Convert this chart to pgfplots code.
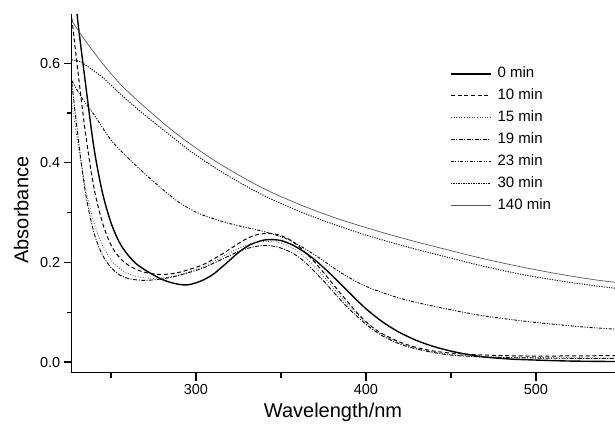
\documentclass[border=0pt]{standalone}
\usepackage{fontspec}
\setmainfont{Liberation Sans}
\usepackage{pgfplots}
\pgfplotsset{compat=1.18}

\begin{document}
\begin{tikzpicture}
\useasboundingbox (-71.7pt,-50.5pt) rectangle (543.3pt,372.5pt);
\begin{axis}[
  at={(0pt,0pt)}, anchor=south west,
  scale only axis, width=543.3pt, height=358.5pt,
  xmin=226.9, xmax=546.5, ymin=-0.021, ymax=0.699,
  axis x line*=bottom, axis y line*=left,
  axis line style={line width=1.2pt},
  tick align=outside,
  major tick length=8pt, minor tick length=5pt,
  tick style={black, line width=1.2pt},
  xtick={300,400,500}, minor xtick={250,350,450},
  ytick={0,0.2,0.4,0.6}, minor ytick={0.1,0.3,0.5},
  y tick label style={/pgf/number format/.cd, fixed, fixed zerofill, precision=1, /tikz/.cd},
  /pgf/number format/assume math mode=true,
  tick label style={font=\fontsize{14.5}{17}\selectfont},
  xlabel={Wavelength/nm}, ylabel={Absorbance},
  label style={font=\fontsize{20}{24}\selectfont},
  xlabel style={at={(axis description cs:0.481,-0.125)}, anchor=base},
  ylabel style={at={(axis description cs:-0.093,0.453)}, anchor=center},
  legend cell align=left,
  legend image code/.code={\draw[#1] (0pt,0pt) -- (40pt,0pt);},
  legend style={draw=none, fill=none, at={(axis description cs:0.6963,0.853)},
    anchor=north west, inner sep=0pt, row sep=7.95pt, column sep=6pt,
    font=\fontsize{15}{18}\selectfont,
    nodes={inner sep=0pt, text height=11pt, text depth=3pt}},
]
% 0 min
\addplot[black, line width=1.4pt, smooth] coordinates {
(227,0.82) (230,0.70) (235,0.56) (240,0.43) (245,0.34) (250,0.28) (255,0.24)
(260,0.215) (265,0.197) (270,0.185) (275,0.175) (280,0.166) (285,0.16) (290,0.156)
(295,0.155) (300,0.159) (305,0.166) (310,0.176) (315,0.19) (320,0.205) (325,0.22)
(330,0.232) (335,0.24) (340,0.245) (345,0.246) (350,0.244) (355,0.238) (360,0.229)
(365,0.218) (370,0.205) (375,0.19) (380,0.174) (385,0.157) (390,0.14) (395,0.123)
(400,0.107) (405,0.093) (410,0.08) (415,0.069) (420,0.059) (430,0.043) (440,0.031)
(450,0.022) (460,0.015) (470,0.01) (485,0.006) (500,0.004) (520,0.002) (547,0.001)
};
\addlegendentry{0 min}
% 10 min
\addplot[black, line width=1pt, dash pattern=on 4pt off 2.7pt, smooth] coordinates {
(227,0.69) (230,0.6) (235,0.46) (240,0.35) (245,0.28) (250,0.235) (255,0.21)
(260,0.195) (265,0.186) (270,0.18) (275,0.177) (280,0.176) (285,0.177) (290,0.18)
(295,0.185) (300,0.19) (305,0.197) (310,0.206) (315,0.216) (320,0.227) (325,0.238)
(330,0.248) (335,0.255) (340,0.258) (345,0.258) (350,0.254) (355,0.246) (360,0.234)
(365,0.218) (370,0.2) (375,0.18) (380,0.159) (385,0.138) (390,0.118) (395,0.098)
(400,0.081) (405,0.067) (410,0.056) (420,0.04) (430,0.029) (440,0.022) (450,0.018)
(470,0.014) (500,0.012) (547,0.013)
};
\addlegendentry{10 min}
% 15 min
\addplot[black!70, line width=0.8pt, dash pattern=on 0.8pt off 1.8pt, smooth] coordinates {
(227,0.52) (230,0.45) (235,0.35) (240,0.28) (245,0.235) (250,0.205) (255,0.188)
(260,0.178) (265,0.172) (270,0.169) (275,0.168) (280,0.169) (285,0.171) (290,0.175)
(295,0.18) (300,0.186) (305,0.193) (310,0.201) (315,0.21) (320,0.22) (325,0.228)
(330,0.235) (335,0.24) (340,0.242) (345,0.242) (350,0.239) (355,0.232) (360,0.222)
(365,0.208) (370,0.191) (375,0.172) (380,0.152) (385,0.132) (390,0.113) (395,0.096)
(400,0.08) (405,0.066) (410,0.055) (420,0.038) (430,0.027) (440,0.02) (450,0.015)
(470,0.011) (500,0.009) (547,0.008)
};
\addlegendentry{15 min}
% 19 min
\addplot[black, line width=0.9pt, dash pattern=on 4pt off 1.5pt on 1pt off 1.5pt, smooth] coordinates {
(227,0.56) (230,0.47) (235,0.34) (240,0.26) (245,0.215) (250,0.19) (255,0.175)
(260,0.168) (265,0.165) (270,0.164) (275,0.165) (280,0.167) (285,0.17) (290,0.174)
(295,0.179) (300,0.184) (305,0.19) (310,0.198) (315,0.206) (320,0.214) (325,0.222)
(330,0.228) (335,0.232) (340,0.234) (345,0.233) (350,0.229) (355,0.222) (360,0.212)
(365,0.198) (370,0.181) (375,0.163) (380,0.144) (385,0.125) (390,0.107) (395,0.091)
(400,0.076) (405,0.063) (410,0.052) (420,0.036) (430,0.026) (440,0.019) (450,0.014)
(470,0.01) (500,0.008) (547,0.007)
};
\addlegendentry{19 min}
% 23 min
\addplot[black, line width=0.9pt, dash pattern=on 3pt off 1.5pt on 1pt off 1.5pt on 1pt off 1.5pt, smooth] coordinates {
(227,0.565) (233,0.53) (240,0.497) (250,0.446) (260,0.41) (270,0.378) (280,0.348)
(290,0.321) (302,0.298) (320,0.278) (340,0.262) (355,0.245) (370,0.215) (385,0.18)
(400,0.152) (420,0.128) (440,0.112) (467,0.094) (496,0.081) (526,0.071) (547,0.066)
};
\addlegendentry{23 min}
% 30 min
\addplot[black, line width=0.9pt, dash pattern=on 1.2pt off 1.3pt, smooth] coordinates {
(227,0.607) (232,0.603) (237,0.592) (245,0.572) (255,0.54) (265,0.51) (275,0.482)
(285,0.455) (295,0.428) (305,0.404) (315,0.382) (325,0.362) (335,0.343) (345,0.326)
(355,0.311) (365,0.297) (375,0.284) (385,0.272) (400,0.255) (415,0.24) (430,0.226)
(445,0.213) (460,0.2) (475,0.188) (490,0.177) (505,0.168) (520,0.16) (535,0.153)
(547,0.148)
};
\addlegendentry{30 min}
% 140 min
\addplot[black!65, line width=0.7pt, smooth] coordinates {
(227,0.685) (235,0.645) (245,0.6) (255,0.56) (265,0.527) (275,0.497) (285,0.468)
(295,0.442) (305,0.418) (315,0.396) (325,0.376) (335,0.357) (345,0.34) (355,0.325)
(365,0.311) (375,0.298) (385,0.286) (400,0.27) (415,0.255) (430,0.241) (445,0.228)
(460,0.215) (475,0.203) (490,0.192) (505,0.182) (520,0.173) (535,0.165) (547,0.16)
};
\addlegendentry{140 min}
\end{axis}
\end{tikzpicture}
\end{document}
